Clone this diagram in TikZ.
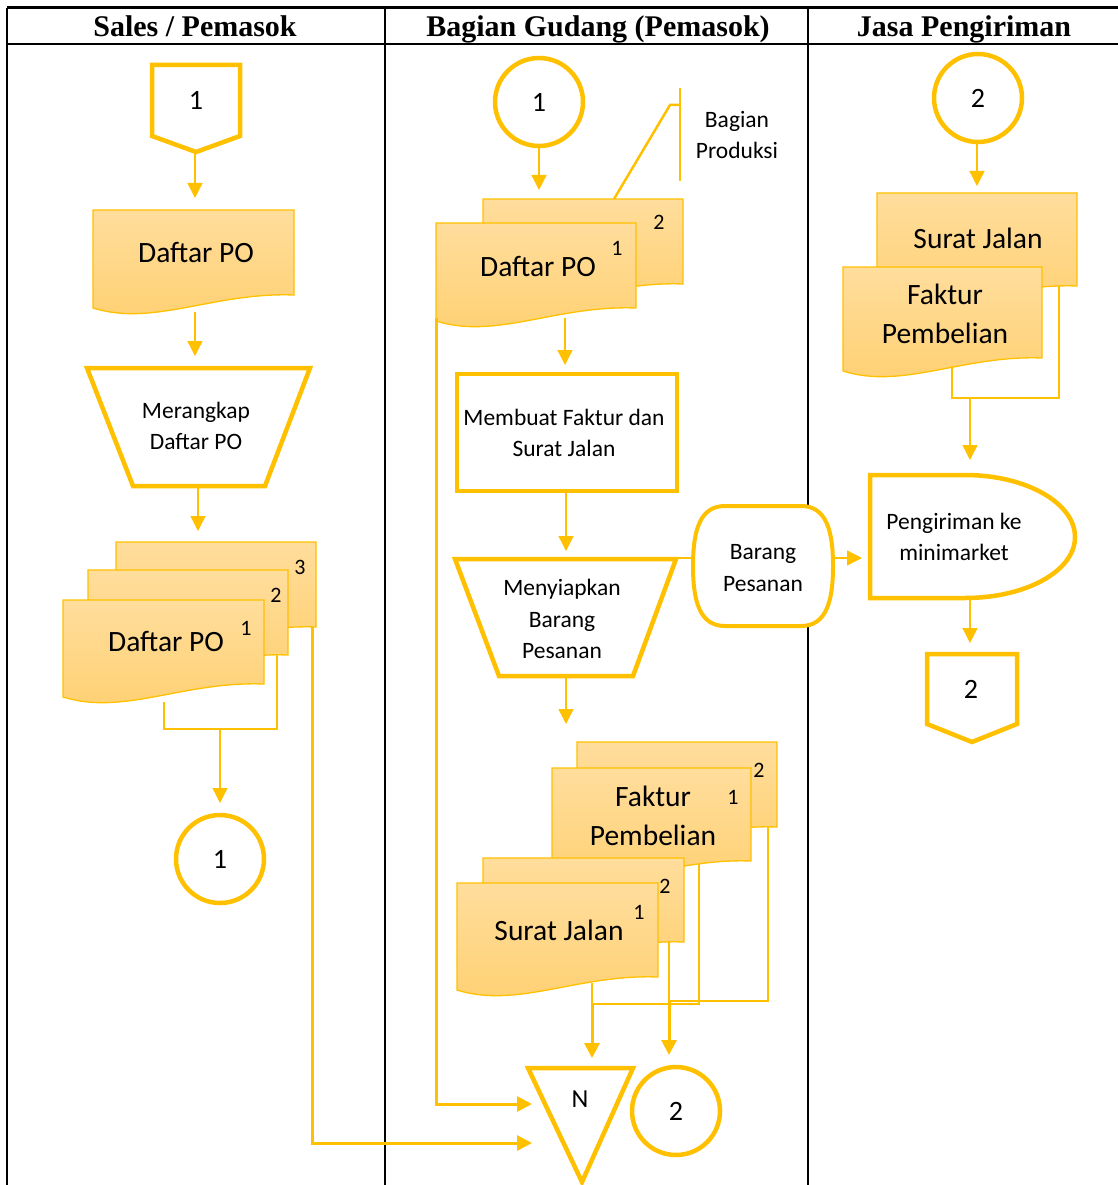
\documentclass[tikz,border=0pt]{standalone}
\usepackage{fontspec}
\setmainfont{Carlito}
\newfontfamily\headfont{Liberation Serif}
\usetikzlibrary{arrows.meta}
\definecolor{gold}{HTML}{FFC000}
\definecolor{doctop}{HTML}{FFDD9C}
\definecolor{docbot}{HTML}{FFD071}

% document sheet: left x, top y, width, height of the right edge
\newcommand\docsheet[4]{%
  \path[docsty] (#1,#2) -- ({#1+#3},#2) -- ({#1+#3},{#2+#4})
    .. controls ({#1+0.6*#3},{#2+#4-3}) and ({#1+0.3*#3},{#2+#4+32}) ..
    (#1,{#2+#4+13}) -- cycle;}

\begin{document}
\begin{tikzpicture}[x=1pt,y=-1pt,
  every node/.style={inner sep=0pt},
  lane/.style={draw=black,line width=2pt},
  shapeln/.style={draw=gold,line width=4.5pt,fill=white,line join=miter},
  docsty/.style={draw=gold,line width=1.3pt,top color=doctop,bottom color=docbot},
  thinlink/.style={draw=gold,line width=1.3pt},
  thicklink/.style={draw=gold,line width=3pt},
  tip/.style={-{Triangle[length=15pt,width=15pt]}},
  txtbig/.style={font=\fontsize{29.5}{39}\selectfont,align=center},
  txtmid/.style={font=\fontsize{23.5}{31.5}\selectfont,align=center},
  txtnum/.style={font=\fontsize{28}{30}\selectfont},
  txtsheet/.style={font=\fontsize{22}{24}\selectfont},
  head/.style={font=\headfont\bfseries\fontsize{30}{30}\selectfont,anchor=base}]

\useasboundingbox (0,0) rectangle (1118,1185);

% ---------- table frame ----------
\draw[lane,line width=3pt] (7,8) -- (1118,8);
\draw[lane,line width=2.5pt] (7,44) -- (1118,44);
\draw[lane] (7,8) -- (7,1185);
\draw[lane] (385,8) -- (385,1185);
\draw[lane] (808,8) -- (808,1185);
\node[head] (h1) at (195,37) {Sales / Pemasok};
\node[head] (h2) at (598,37) {Bagian Gudang (Pemasok)};
\node[head] (h3) at (964,37) {Jasa Pengiriman};

% ================= Sales / Pemasok =================
\path[shapeln] (152,65) -- (240,65) -- (240,136) -- (196,152) -- (152,136) -- cycle;
\node[txtnum] (opA) at (196,100) {1};
\coordinate (opAtip) at (195,152);

\docsheet{93}{210}{201}{85}
\node[txtbig] (dpoA) at (196,252) {Daftar PO};
\coordinate (dpoAtop) at (195,210);
\coordinate (dpoAbot) at (195,312);

\path[shapeln] (87,368) -- (310,368) -- (265,486) -- (133,486) -- cycle;
\node[txtmid] (mrg) at (196,426) {Merangkap\\Daftar PO};
\coordinate (mrgtop) at (195,368);
\coordinate (mrgbot) at (198,486);

\docsheet{116}{542}{200}{85}
\docsheet{88}{570}{200}{85}
\docsheet{63}{600}{201}{84}
\node[txtsheet] (sA3) at (300,567) {3};
\node[txtsheet] (sA2) at (276,595) {2};
\node[txtsheet] (sA1) at (246,628) {1};
\node[txtbig] (dpoB) at (166,641) {Daftar PO};
\coordinate (dpoBtop) at (198,542);

\draw[shapeln] (220,859) circle[radius=44];
\node[txtnum] (cA) at (220,859) {1};
\coordinate (cAtop) at (220,815);

\draw[thinlink,tip,shorten >=12pt] (opAtip) -- (dpoAtop);
\draw[thinlink,tip,shorten >=12pt] (dpoAbot) -- (mrgtop);
\draw[thinlink,tip,shorten >=11pt] (mrgbot) -- (dpoBtop);
\coordinate (jA1) at (164,729);
\coordinate (jA2) at (277,729);
\coordinate (jAm) at (220,729);
\draw[thinlink] (164,702) -- (jA1) -- (jA2) -- (277,655);
\draw[thinlink,tip,shorten >=12pt] (jAm) -- (cAtop);

% ================= Bagian Gudang =================
\draw[shapeln] (539,102) circle[radius=44];
\node[txtnum] (cB) at (539,102) {1};
\coordinate (cBbot) at (539,146);

\draw[gold,line width=2.5pt] (680,88) -- (680,181);
\draw[gold,line width=2.5pt] (680,105) -- (670,105) -- (614,199);
\node[txtmid] (prod) at (737,135) {Bagian\\Produksi};

\docsheet{483}{199}{200}{85}
\docsheet{436}{223}{200}{85}
\node[txtsheet] (sB2) at (659,222) {2};
\node[txtsheet] (sB1) at (617,248) {1};
\node[txtbig] (dpoC) at (538,266) {Daftar PO};
\coordinate (dpoCtop) at (539,199);

\path[shapeln] (457,374) rectangle (677,491);
\node[txtmid] (mbf) at (564,433) {Membuat Faktur dan\\Surat Jalan};
\coordinate (mbftop) at (565,374);
\coordinate (mbfbot) at (566,491);

\path[shapeln] (455,559) -- (676,559) -- (633,676) -- (499,676) -- cycle;
\node[txtmid] (myp) at (562,619) {Menyiapkan\\Barang\\Pesanan};
\coordinate (myptop) at (566,559);
\coordinate (mypbot) at (566,676);

\docsheet{577}{742}{200}{85}
\docsheet{552}{768}{199}{93}
\node[txtsheet] (sF2) at (759,770) {2};
\node[txtsheet] (sF1) at (733,797) {1};
\node[txtbig] (fkA) at (653,816) {Faktur\\Pembelian};

\docsheet{483}{858}{201}{84}
\docsheet{457}{883}{201}{94}
\node[txtsheet] (sS2) at (665,886) {2};
\node[txtsheet] (sS1) at (639,912) {1};
\node[txtbig] (sjA) at (559,930) {Surat Jalan};

\path[shapeln] (528,1068) -- (633,1068) -- (582,1182) -- cycle;
\node[txtnum,font=\fontsize{26}{28}\selectfont] (fileN) at (580,1099) {N};
\coordinate (Ntop) at (592,1068);

\draw[shapeln] (676,1111) circle[radius=44];
\node[txtnum] (cC) at (676,1111) {2};
\coordinate (cCtop) at (669,1067);

% stored goods
\path[shapeln,line width=4pt] (725,506) -- (801,506)
  .. controls (826,506) and (833,530) .. (833,566)
  .. controls (833,602) and (826,626) .. (801,626) -- (725,626)
  .. controls (700,626) and (693,602) .. (693,566)
  .. controls (693,530) and (700,506) .. (725,506) -- cycle;
\node[txtmid] (brg) at (763,568) {Barang\\Pesanan};
\coordinate (brgleft) at (694,558);
\coordinate (brgright) at (833,558);

\draw[thinlink,tip,shorten >=9pt] (cBbot) -- (dpoCtop);
\draw[thinlink,tip,shorten >=9pt] (565,318) -- (mbftop);
\draw[thinlink,tip,shorten >=8pt] (mbfbot) -- (myptop);
\draw[thinlink,tip] (mypbot) -- (566,724);
\draw[thinlink] (628,558) -- (brgleft);
\draw[thicklink,tip] (436,318) -- (436,1104) -- (532,1104);
\draw[thicklink,tip] (312,627) -- (312,1143) -- (532,1143);

\coordinate (jS1) at (592,1004);
\coordinate (jS2) at (669,1001);
\draw[thinlink] (592,983) -- (jS1) -- (699,1004) -- (699,864);
\draw[thinlink] (669,942) -- (jS2) -- (768,1001) -- (768,827);
\draw[thicklink,tip,shorten >=10pt] (jS1) -- (Ntop);
\draw[thicklink,tip,shorten >=12pt] (jS2) -- (cCtop);

% ================= Jasa Pengiriman =================
\draw[shapeln] (978,98) circle[radius=44];
\node[txtnum] (cD) at (978,98) {2};
\coordinate (cDbot) at (977,142);

\docsheet{877}{193}{200}{93}
\docsheet{843}{267}{199}{91}
\node[txtbig] (sjB) at (978,238) {Surat Jalan};
\node[txtbig] (fkB) at (945,314) {Faktur\\Pembelian};
\coordinate (sjBtop) at (977,193);

\path[shapeln] (870,475) -- (965,475)
  .. controls (1026,475) and (1075,503) .. (1075,537)
  .. controls (1075,571) and (1026,598) .. (965,598) -- (870,598) -- cycle;
\node[txtmid] (krm) at (954,537) {Pengiriman ke\\minimarket};
\coordinate (krmtop) at (970,475);
\coordinate (krmbot) at (970,598);
\coordinate (krmleft) at (870,558);

\path[shapeln] (927,654) -- (1017,654) -- (1017,724) -- (972,742) -- (927,724) -- cycle;
\node[txtnum] (opB) at (971,689) {2};
\coordinate (opBtop) at (970,654);

\draw[thinlink,tip,shorten >=7pt] (cDbot) -- (sjBtop);
\coordinate (jD) at (970,398);
\draw[thinlink] (952,366) -- (952,398) -- (1059,398) -- (1059,286);
\draw[thinlink,tip,shorten >=15pt] (jD) -- (krmtop);
\draw[thinlink,tip,shorten >=11pt] (krmbot) -- (opBtop);
\draw[thinlink,tip,shorten >=8pt] (brgright) -- (krmleft);

\end{tikzpicture}
\end{document}
